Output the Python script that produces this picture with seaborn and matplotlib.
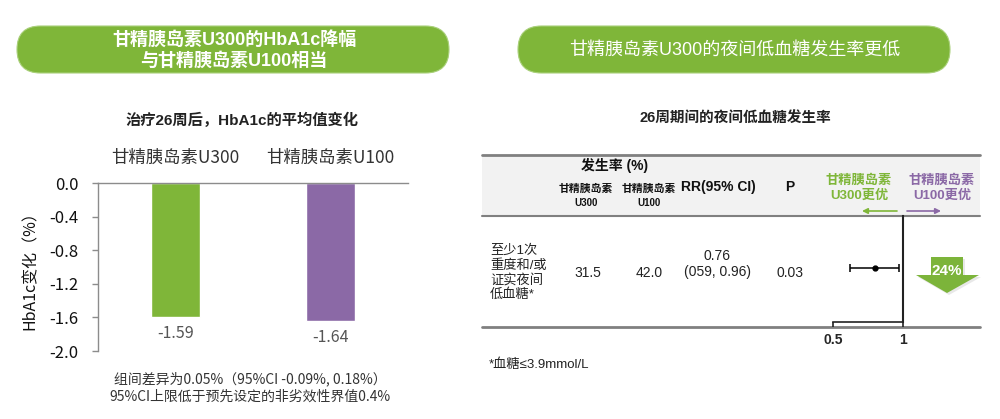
import matplotlib
matplotlib.use("Agg")
import matplotlib.pyplot as plt
from matplotlib.patches import FancyBboxPatch, Rectangle, Polygon
from matplotlib.ticker import FixedLocator, FixedFormatter, NullLocator, FormatStrFormatter
import seaborn as sns

# ---------------- data ----------------
groups = ["甘精胰岛素U300", "甘精胰岛素U100"]
hba1c_change = [-1.59, -1.64]
y_ticks = [0.0, -0.4, -0.8, -1.2, -1.6, -2.0]

incidence_u300 = "31.5"
incidence_u100 = "42.0"
rr_value = 0.76
rr_low = 0.59
rr_high = 0.96
rr_text = ["0.76", "(059, 0.96)"]
p_value = "0.03"
forest_ticks = [0.5, 1]
forest_tick_labels = ["0.5", "1"]
reduction_label = "24%"

banner_left = "甘精胰岛素U300的HbA1c降幅\n与甘精胰岛素U100相当"
banner_right = "甘精胰岛素U300的夜间低血糖发生率更低"
subtitle_left = "治疗26周后，HbA1c的平均值变化"
subtitle_right = "26周期间的夜间低血糖发生率"
ylabel_left = "HbA1c变化（%）"
note_left = "组间差异为0.05%（95%CI -0.09%, 0.18%）\n95%CI上限低于预先设定的非劣效性界值0.4%"
row_label = "至少1次\n重度和/或\n证实夜间\n低血糖*"
note_right = "*血糖≤3.9mmol/L"

GREEN = "#7fb639"
PURPLE = "#8b69a6"

# ---------------- style ----------------
sns.set_style("white")
plt.rcParams["font.family"] = ["Liberation Sans", "Noto Sans CJK SC"]
plt.rcParams["axes.unicode_minus"] = False
ARIAL = ["Liberation Sans", "Noto Sans CJK SC"]
CJK = ["Noto Sans CJK SC", "DejaVu Sans"]

W, H = 1000, 419
fig = plt.figure(figsize=(10, 4.19), dpi=100)

# overlay axes in pixel coordinates
ov = fig.add_axes([0, 0, 1, 1])
ov.set_xlim(0, W)
ov.set_ylim(H, 0)
ov.axis("off")
ov.set_zorder(0)

# banners
for x0 in (17, 518):
    ov.add_patch(FancyBboxPatch((x0, 26), 432, 47,
                                boxstyle="round,pad=0,rounding_size=23.5",
                                facecolor=GREEN, edgecolor="#a9d07a", lw=0.8))
ov.text(234, 50, banner_left, ha="center", va="center", color="white",
        fontsize=13, fontweight="bold", family=ARIAL, linespacing=1.25)
ov.text(735, 50, banner_right, ha="center", va="center", color="white",
        fontsize=13, family=ARIAL)

# subtitles
ov.text(242, 120, subtitle_left, ha="center", va="center", fontsize=11,
        fontweight="bold", family=ARIAL, color="#222222")
ov.text(735, 119, subtitle_right, ha="center", va="center", fontsize=10.5,
        fontweight="bold", family=ARIAL, color="#222222")

# ---------------- left: bar chart ----------------
ax = fig.add_axes([98 / W, 1 - 351 / H, 310 / W, 168 / H])
ax.set_facecolor("none")
sns.barplot(x=groups, y=hba1c_change, hue=groups, palette=[GREEN, PURPLE],
            width=0.31, saturation=1, legend=False, ax=ax)
ax.set_ylim(-2.0, 0)
ax.set_xlim(-0.5, 1.5)
ax.set_yticks(y_ticks)
ax.yaxis.set_major_formatter(FormatStrFormatter("%.1f"))
for s in ("bottom", "right"):
    ax.spines[s].set_visible(False)
for s in ("top", "left"):
    ax.spines[s].set_visible(True)
    ax.spines[s].set_color("#8c8c8c")
    ax.spines[s].set_linewidth(1)
ax.xaxis.tick_top()
ax.tick_params(axis="x", length=0, pad=12, labelsize=12.5, labelcolor="#333333")
ax.tick_params(axis="y", left=True, length=4.3, width=1, color="#8c8c8c",
               pad=10, labelsize=12, labelcolor="#111111")
for lab in ax.get_xticklabels() + ax.get_yticklabels():
    lab.set_fontfamily(CJK)
ax.set_xlabel("")
ax.set_ylabel(ylabel_left, fontsize=11.5, family=CJK, color="#111111")
ax.yaxis.set_label_coords(-0.19, 0.5)
for cont in ax.containers:
    ax.bar_label(cont, fmt="%.2f", padding=6, fontsize=11.5, color="#555555",
                 family=CJK)

ov.text(250, 388, note_left, ha="center", va="center", fontsize=10,
        family=CJK, color="#333333", linespacing=1.3)

# ---------------- right: table + forest ----------------
ov.add_patch(Rectangle((482, 155), 498, 61, facecolor="#f2f2f2", edgecolor="none"))
ov.plot([482, 980], [155, 155], color="#808080", lw=2)
ov.plot([482, 980], [216, 216], color="#808080", lw=1.5)
ov.plot([482, 980], [327, 327], color="#808080", lw=2)

ov.text(615, 165, "发生率 (%)", ha="center", va="center", fontsize=10,
        fontweight="bold", family=ARIAL, color="#111111")
for xc, u in ((586, "U300"), (649, "U100")):
    ov.text(xc, 189, "甘精胰岛素", ha="center", va="center", fontsize=7.8,
            fontweight="bold", family=CJK, color="#111111")
    ov.text(xc, 203, u, ha="center", va="center", fontsize=7,
            fontweight="bold", family=ARIAL, color="#111111")
ov.text(718, 187, "RR(95% CI)", ha="center", va="center", fontsize=10,
        fontweight="bold", family=ARIAL, color="#111111")
ov.text(790, 187, "P", ha="center", va="center", fontsize=10,
        fontweight="bold", family=ARIAL, color="#111111")

ov.text(859, 188, "甘精胰岛素\nU300更优", ha="center", va="center", fontsize=9.5,
        fontweight="bold", family=ARIAL, color=GREEN, linespacing=1.25)
ov.text(942, 188, "甘精胰岛素\nU100更优", ha="center", va="center", fontsize=9.5,
        fontweight="bold", family=ARIAL, color=PURPLE, linespacing=1.25)
ov.annotate("", xy=(862, 211), xytext=(897, 211),
            arrowprops=dict(arrowstyle="-|>", color=GREEN, lw=1.2, mutation_scale=8,
                            shrinkA=0, shrinkB=0))
ov.annotate("", xy=(941, 211), xytext=(907, 211),
            arrowprops=dict(arrowstyle="-|>", color=PURPLE, lw=1.2, mutation_scale=8,
                            shrinkA=0, shrinkB=0))

ov.text(490, 273, row_label, ha="left", va="center", fontsize=9.5,
        family=ARIAL, color="#222222", linespacing=1.2)
ov.text(588, 273, incidence_u300, ha="center", va="center", fontsize=10,
        family=ARIAL, color="#222222")
ov.text(649, 273, incidence_u100, ha="center", va="center", fontsize=10,
        family=ARIAL, color="#222222")
ov.text(717, 264, "\n".join(rr_text), ha="center", va="center", fontsize=10,
        family=ARIAL, color="#222222", linespacing=1.25)
ov.text(790, 273, p_value, ha="center", va="center", fontsize=10,
        family=ARIAL, color="#222222")

# big reduction arrow
ov.add_patch(Polygon([(933, 259), (965, 259), (965, 277), (981, 277), (949, 295),
                      (918, 277), (933, 277)], closed=True,
                     facecolor="#d9d9d9", edgecolor="none", alpha=0.6))
ov.add_patch(Polygon([(931, 257), (963, 257), (963, 275), (979, 275), (947, 293),
                      (916, 275), (931, 275)], closed=True,
                     facecolor="#7cb43a", edgecolor="none"))
ov.text(947, 271, reduction_label, ha="center", va="center", fontsize=11,
        fontweight="bold", family=ARIAL, color="white")

ov.text(489, 365, note_right, ha="left", va="center", fontsize=9.5,
        family=ARIAL, color="#222222")

# forest axes (log scale)
af = fig.add_axes([833 / W, 1 - 322 / H, 70 / W, 106 / H])
af.set_facecolor("none")
af.set_xscale("log")
af.set_xlim(forest_ticks[0], forest_ticks[-1])
af.set_ylim(0, 1)
af.errorbar([rr_value], [0.51], xerr=[[rr_value - rr_low], [rr_high - rr_value]],
            fmt="o", color="black", ms=3.5, capsize=3, elinewidth=1.1,
            capthick=1.1, clip_on=False)
for s in ("left", "top"):
    af.spines[s].set_visible(False)
for s in ("bottom", "right"):
    af.spines[s].set_visible(True)
    af.spines[s].set_color("#222222")
af.spines["bottom"].set_linewidth(1.2)
af.spines["right"].set_linewidth(1.5)
af.xaxis.set_major_locator(FixedLocator(forest_ticks))
af.xaxis.set_major_formatter(FixedFormatter(forest_tick_labels))
af.xaxis.set_minor_locator(NullLocator())
af.set_yticks([])
af.tick_params(axis="x", bottom=True, direction="out", length=3.6, width=1.2,
               color="#222222", pad=4.5, labelsize=10)
for lab in af.get_xticklabels():
    lab.set_fontweight("bold")

fig.savefig("out.png", dpi=100)
